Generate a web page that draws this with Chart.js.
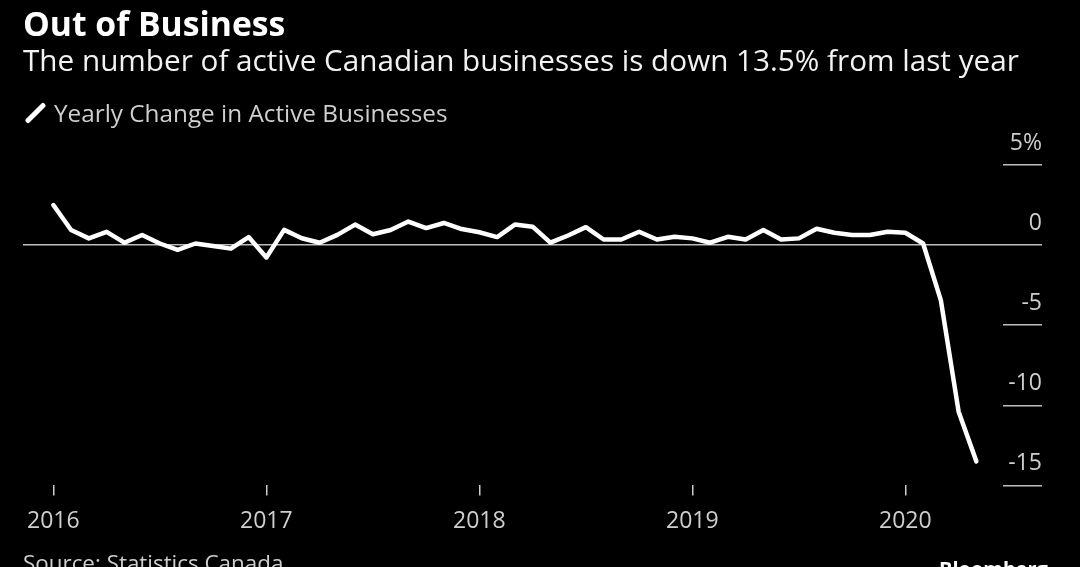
<!DOCTYPE html>
<html>
<head>
<meta charset="utf-8">
<script src="https://cdn.jsdelivr.net/npm/chart.js@4.4.1/dist/chart.umd.min.js"></script>
<style>
  html, body { margin: 0; padding: 0; background: #000; }
  body { width: 1080px; height: 567px; position: relative; overflow: hidden; font-family: "Open Sans", sans-serif; }
  #wrap { position: absolute; left: 0; top: 0; width: 1080px; height: 567px; }
  .txt { position: absolute; white-space: nowrap; line-height: 1; }
  #title { left: 23px; top: 7px; font-size: 33.7px; font-weight: 700; color: #fff; }
  #subtitle { left: 23px; top: 45px; font-size: 29.7px; color: #f2f2f2; }
  #legend { left: 23px; top: 100px; font-size: 24.3px; color: #cfcfcf; }
  #legend .key { display: inline-block; width: 5px; height: 26px; background: #fff; border-radius: 2px;
                 transform: rotate(45deg); margin: 0 16px -4px 10px; }
  #source { left: 23px; top: 552px; font-size: 22.4px; color: #cfcfcf; }
  #brand { left: 939px; top: 559px; font-size: 20px; font-weight: 700; color: #fff; }
</style>
</head>
<body>
<div id="wrap"><canvas id="my_canvas" width="1080" height="567"></canvas></div>
<div class="txt" id="title">Out of Business</div>
<div class="txt" id="subtitle">The number of active Canadian businesses is down 13.5% from last year</div>
<div class="txt" id="legend"><span class="key"></span>Yearly Change in Active Businesses</div>
<div class="txt" id="source">Source: Statistics Canada</div>
<div class="txt" id="brand">Bloomberg</div>
<script>
// monthly, Jan 2016 .. May 2020 (index 0 = Jan 2016)
var yearly_change = [
    2.5, 0.94, 0.42, 0.83, 0.15, 0.63, 0.1, -0.3, 0.1, -0.06, -0.22, 0.5,
    -0.77, 0.95, 0.43, 0.15, 0.64, 1.28, 0.68, 0.94, 1.47, 1.06, 1.38, 1.0,
    0.8, 0.5, 1.28, 1.15, 0.15, 0.6, 1.12, 0.35, 0.35, 0.83, 0.35, 0.52,
    0.42, 0.15, 0.52, 0.35, 0.94, 0.35, 0.42, 1.02, 0.77, 0.63, 0.63, 0.83,
    0.77, 0.1, -3.45, -10.4, -13.5
];
var year_ticks  = [0, 12, 24, 36, 48];
var year_labels = ['2016', '2017', '2018', '2019', '2020'];
var y_ticks     = [5, 0, -5, -10, -15];

var points = [];
for (var i in yearly_change) {
    points.push({x: Number(i), y: yearly_change[i]});
}

var chartdata = {
    datasets: [
        {
            label: 'Yearly Change in Active Businesses',
            data: points,
            borderColor: '#ffffff',
            borderWidth: 4.5,
            borderJoinStyle: 'round',
            borderCapStyle: 'round',
            pointRadius: 0,
            tension: 0
        }
    ]
};

var ctx = document.getElementById('my_canvas');

var lineGraph = new Chart(ctx, {
    type: 'line',
    data: chartdata,
    options: {
        responsive: false,
        animation: false,
        events: [],
        layout: { padding: { left: 23, right: -40, top: 165, bottom: 20 } },
        plugins: { legend: { display: false }, tooltip: { enabled: false } },
        scales: {
            x: {
                type: 'linear',
                min: -1.71,
                max: 53.5,
                afterBuildTicks: function(scale) {
                    scale.ticks = year_ticks.map(function(v) { return {value: v}; });
                },
                border: { display: false },
                grid: { drawOnChartArea: false, tickLength: 10, tickColor: '#cccccc', lineWidth: 1.5 },
                ticks: {
                    autoSkip: false,
                    maxRotation: 0,
                    padding: 12,
                    color: '#cfcfcf',
                    font: { family: 'Open Sans', size: 23 },
                    callback: function(v) {
                        var k = year_ticks.indexOf(v);
                        return k >= 0 ? year_labels[k] : '';
                    }
                }
            },
            y: {
                position: 'right',
                min: -15,
                max: 5,
                afterBuildTicks: function(scale) {
                    scale.ticks = y_ticks.map(function(v) { return {value: v}; });
                },
                border: { display: false },
                grid: {
                    tickLength: 39,
                    lineWidth: 1.5,
                    tickColor: '#bdbdbd',
                    color: function(c) { return c.tick && c.tick.value === 0 ? '#bdbdbd' : 'rgba(0,0,0,0)'; }
                },
                ticks: {
                    mirror: true,
                    padding: 39,
                    labelOffset: -22,
                    color: '#cfcfcf',
                    font: { family: 'Open Sans', size: 23 },
                    callback: function(v) { return v === 5 ? '5%' : String(v); }
                }
            }
        }
    }
});
</script>
</body>
</html>
